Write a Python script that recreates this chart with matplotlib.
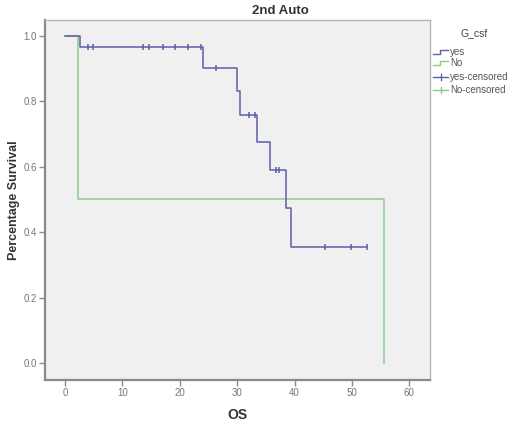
import numpy as np
import matplotlib
matplotlib.use("Agg")
import matplotlib.pyplot as plt
from matplotlib.lines import Line2D

plt.rcParams['font.family'] = ['Liberation Sans', 'DejaVu Sans']

# ---- data ----
title = "2nd Auto"
legend_title = "G_csf"
series_names = ["yes", "No", "yes-censored", "No-censored"]

yes_times = [0, 2.6, 24.0, 29.9, 30.4, 33.4, 35.8, 38.5, 39.3, 52.6]
yes_surv = [1.0, 0.964, 0.900, 0.830, 0.758, 0.676, 0.590, 0.473, 0.355, 0.355]
yes_cens_t = [4.0, 4.9, 13.5, 14.6, 17.1, 19.2, 21.4, 23.7, 26.3,
              32.1, 33.1, 36.8, 37.3, 45.3, 49.8, 52.6]

no_times = [0, 2.3, 55.6]
no_surv = [1.0, 0.5, 0.0]

x_ticks = [0, 10, 20, 30, 40, 50, 60]
y_ticks = [0.0, 0.2, 0.4, 0.6, 0.8, 1.0]

yes_color = "#5c5fa6"
no_color = "#8cc98c"
frame_color = "#8a8a8a"

W, H = 520, 426
fig = plt.figure(figsize=(W / 100, H / 100), dpi=100)
ax = fig.add_axes([45 / W, 1 - 380 / H, (430 - 45) / W, (380 - 20) / H])
ax.set_facecolor("#f0f0f0")

# curves
ax.plot(no_times, no_surv, drawstyle='steps-post', color=no_color, lw=1.1, zorder=2)
ax.plot(yes_times, yes_surv, drawstyle='steps-post', color=yes_color, lw=1.1, zorder=3)

def km_at(t, times, surv):
    idx = np.searchsorted(times, t, side='right') - 1
    return np.asarray(surv)[idx]

cens_y = [km_at(t, yes_times, yes_surv) for t in yes_cens_t]
ax.plot(yes_cens_t, cens_y, ls='none', marker='|', ms=5, mew=1.1,
        color=yes_color, zorder=4)

ax.set_xlim(-3.5, 63.6)
ax.set_ylim(-0.052, 1.048)
ax.set_xticks(x_ticks)
ax.set_yticks(y_ticks)
ax.set_xticklabels([str(v) for v in x_ticks])
ax.set_yticklabels([f"{v:.1f}" for v in y_ticks])
ax.tick_params(direction='out', length=4, width=1, color=frame_color,
               labelsize=7, labelcolor="#777777", pad=2)

for s in ax.spines.values():
    s.set_color("#b5b5b5")
    s.set_linewidth(1.0)
ax.spines['left'].set_color(frame_color)
ax.spines['left'].set_linewidth(1.6)
ax.spines['bottom'].set_color(frame_color)
ax.spines['bottom'].set_linewidth(1.6)

ax.set_xlabel("OS", fontsize=10, fontweight='bold', color="#333333")
ax.xaxis.set_label_coords((237 - 45) / 385, -(415 - 380) / 360)
ax.set_ylabel("Percentage Survival", fontsize=9, fontweight='bold', color="#333333")
ax.yaxis.set_label_coords(-(45 - 14) / 385, (380 - 200) / 360)
ax.yaxis.label.set_va('center')
ax.xaxis.label.set_va('center')

fig.text(280 / W, 1 - 11 / H, title, ha='center', va='center',
         fontsize=9.5, fontweight='bold', color="#333333")

# legend (manual, in pixel coordinates of the figure)
def fx(px):
    return px / W

def fy(py):
    return 1 - py / H

fig.text(fx(474), fy(33), legend_title, ha='center', va='center', fontsize=7.5, color="#444444")
rows = [52, 63, 77, 90]
cols = [yes_color, no_color, yes_color, no_color]
for i, (name, r, c) in enumerate(zip(series_names, rows, cols)):
    if i < 2:
        xs = [433, 440, 440, 448]
        ys = [r + 1.5, r + 1.5, r - 2, r - 2]
        fig.add_artist(Line2D([fx(v) for v in xs], [fy(v) for v in ys], color=c, lw=1.0))
    else:
        fig.add_artist(Line2D([fx(433), fx(448)], [fy(r), fy(r)], color=c, lw=1.0))
        fig.add_artist(Line2D([fx(440.5), fx(440.5)], [fy(r - 3), fy(r + 3)], color=c, lw=1.0))
    fig.text(fx(450), fy(r), name, ha='left', va='center', fontsize=7, color="#555555")

fig.savefig("out.png", dpi=100)
